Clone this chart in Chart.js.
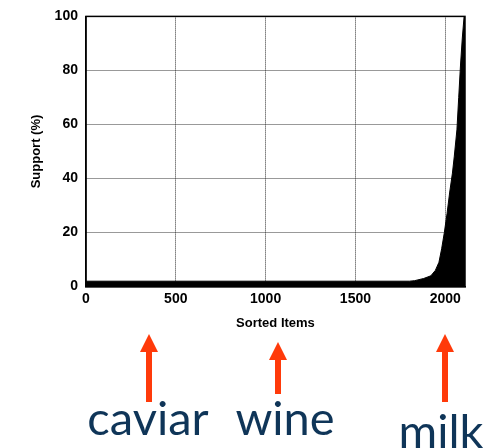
<!DOCTYPE html>
<html>
<head>
<meta charset="utf-8">
<script src="https://cdn.jsdelivr.net/npm/chart.js@4"></script>
<style>
html,body{margin:0;padding:0;background:#fff;}
#wrap{width:501px;height:448px;position:relative;}
</style>
</head>
<body>
<div id="wrap"><canvas id="c" width="501" height="448"></canvas></div>
<script>
const itemRank = [0, 1800, 1830, 1880, 1920, 1945, 1965, 1980, 1995, 2010, 2025, 2040, 2050, 2065, 2075, 2085, 2095, 2105, 2110];
const supportPct = [2, 2, 2.2, 3, 4, 6, 9, 14, 20, 27, 35, 42, 48, 58, 70, 82, 92, 100, 100];
const xTicks = [0, 500, 1000, 1500, 2000];
const yTicks = [0, 20, 40, 60, 80, 100];
const annotLabels = ['caviar', 'wine', 'milk'];
const annotItems = [350, 1068, 2000];

const points = itemRank.map((x, i) => ({x: x, y: supportPct[i]}));

const annotPlugin = {
  id: 'annot',
  afterDraw(chart) {
    const ctx = chart.ctx;
    const xs = chart.scales.x;
    const a = chart.chartArea;
    ctx.save();
    ctx.strokeStyle = '#000';
    ctx.lineWidth = 1.5;
    ctx.setLineDash([]);
    ctx.strokeRect(a.left, a.top, a.right - a.left, a.bottom - a.top);
    const arrowTop = [334, 342, 334];
    const arrowBot = [402, 394, 402];
    const textX = [148, 285, 441];
    const textY = [435, 435, 448];
    annotItems.forEach((v, i) => {
      const px = Math.round(xs.getPixelForValue(v));
      ctx.fillStyle = '#ff3a0a';
      ctx.fillRect(px - 3, arrowTop[i] + 16, 6, arrowBot[i] - arrowTop[i] - 16);
      ctx.beginPath();
      ctx.moveTo(px, arrowTop[i]);
      ctx.lineTo(px - 9, arrowTop[i] + 18);
      ctx.lineTo(px + 9, arrowTop[i] + 18);
      ctx.closePath();
      ctx.fill();
      ctx.fillStyle = '#0f3558';
      ctx.font = '47px Lato, "Open Sans", sans-serif';
      ctx.textAlign = 'center';
      ctx.textBaseline = 'alphabetic';
      ctx.fillText(annotLabels[i], textX[i], textY[i]);
    });
    ctx.restore();
  }
};

const axisFont = {family: '"Liberation Sans", Arial, sans-serif', size: 14, weight: 'bold'};
const titleFont = {family: '"Liberation Sans", Arial, sans-serif', size: 13, weight: 'bold'};

new Chart(document.getElementById('c'), {
  type: 'line',
  data: {
    datasets: [{
      data: points,
      borderColor: '#000',
      backgroundColor: '#000',
      borderWidth: 1,
      fill: 'origin',
      pointRadius: 0,
      tension: 0
    }]
  },
  options: {
    responsive: false,
    animation: false,
    events: [],
    layout: {padding: {left: 29, right: 36, top: 8, bottom: 117}},
    plugins: {legend: {display: false}, tooltip: {enabled: false}},
    scales: {
      x: {
        type: 'linear',
        min: 0, max: 2110,
        afterBuildTicks(s) { s.ticks = xTicks.map(v => ({value: v})); },
        ticks: {color: '#000', font: axisFont, padding: 4, maxRotation: 0, callback: v => String(v)},
        grid: {color: '#333', lineWidth: 1, drawTicks: false},
        border: {display: true, color: '#000', width: 1.5, dash: [1, 1]},
        title: {display: true, text: 'Sorted Items', color: '#000', font: titleFont, padding: {top: 4, bottom: 0}}
      },
      y: {
        min: 0, max: 100,
        afterBuildTicks(s) { s.ticks = yTicks.map(v => ({value: v})); },
        ticks: {color: '#000', font: axisFont, padding: 8, callback: v => String(v)},
        grid: {color: '#333', lineWidth: 1, drawTicks: false},
        border: {display: true, color: '#000', width: 1.5, dash: [1, 1]},
        title: {display: true, text: 'Support (%)', color: '#000', font: titleFont, padding: {top: 0, bottom: 2}}
      }
    }
  },
  plugins: [annotPlugin]
});
</script>
</body>
</html>
